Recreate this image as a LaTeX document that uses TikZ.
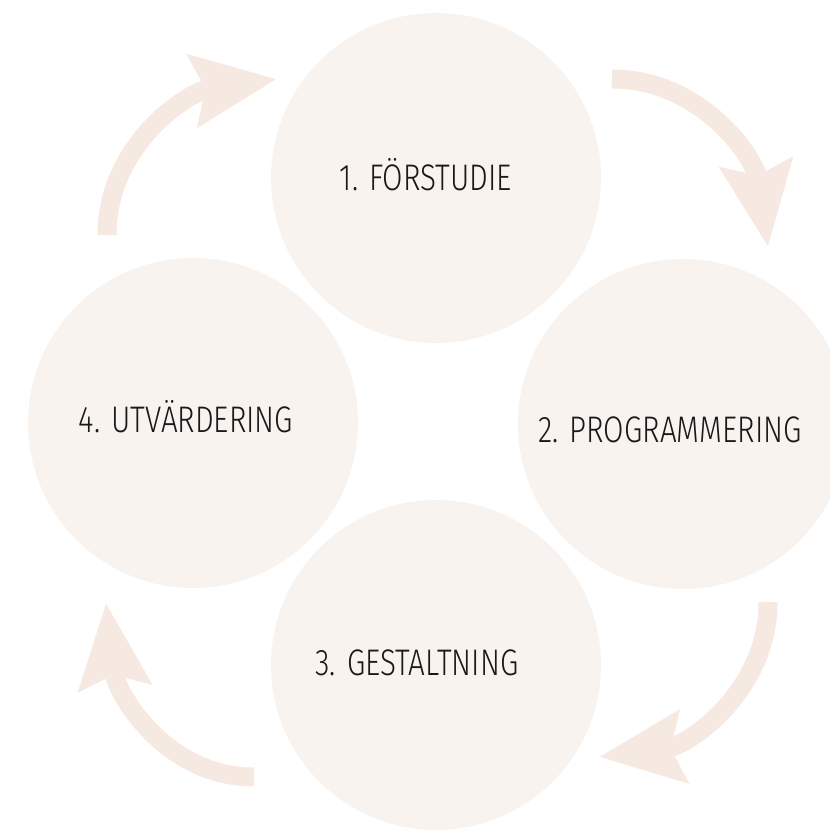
\documentclass[tikz,border=0pt]{standalone}
\usepackage{fontspec}
\setmainfont{Fira Sans}[UprightFont=* Light, FakeStretch=0.80]
\usetikzlibrary{arrows.meta}

\definecolor{stagefill}{RGB}{248,243,239}
\definecolor{flowcol}{RGB}{246,233,225}

\begin{document}
\begin{tikzpicture}[x=1bp,y=1bp,
  stage/.style={circle,fill=stagefill,minimum size=330bp,inner sep=0pt},
  stagetext/.style={font=\fontsize{37bp}{40bp}\selectfont,text=black!90,
    text height=25.5bp,text depth=0pt,inner sep=0pt},
  flow/.style={draw=flowcol,line width=19bp,
    -{Stealth[length=84bp,width=71bp,inset=12bp]}},
]
\useasboundingbox (0,0) rectangle (830,830);
\clip (0,0) rectangle (830,830);

% Node: 1
\node[stage] (s1) at (436,652) {};
\node[stagetext] (t1) at ([xshift=-10bp]s1.center) {1. FÖRSTUDIE};

% Node: 2
\node[stage] (s2) at (683,406) {};
\node[stagetext] (t2) at ([xshift=-13bp,yshift=-6bp]s2.center) {2. PROGRAMMERING};

% Node: 3
\node[stage] (s3) at (436,165) {};
\node[stagetext] (t3) at ([xshift=-19bp,yshift=2bp]s3.center) {3. GESTALTNING};

% Node: 4
\node[stage] (s4) at (193,407) {};
\node[stagetext] (t4) at ([xshift=-7bp,yshift=3bp]s4.center) {4. UTVÄRDERING};

% Edge: 1 -> 2
\coordinate (f1a) at (612,751);
\coordinate (f1b) at (768,583);
\draw[flow] (f1a) to[out=0,in=98] (f1b);

% Edge: 2 -> 3
\coordinate (f2a) at (768,228);
\coordinate (f2b) at (599,73);
\draw[flow] (f2a) to[out=-90,in=7] (f2b);

% Edge: 3 -> 4
\coordinate (f3a) at (254,53);
\coordinate (f3b) at (106,227);
\draw[flow] (f3a) to[out=180,in=-84] (f3b);

% Edge: 4 -> 1
\coordinate (f4a) at (107,595);
\coordinate (f4b) at (277,751);
\draw[flow] (f4a) to[out=90,in=188] (f4b);
\end{tikzpicture}
\end{document}
